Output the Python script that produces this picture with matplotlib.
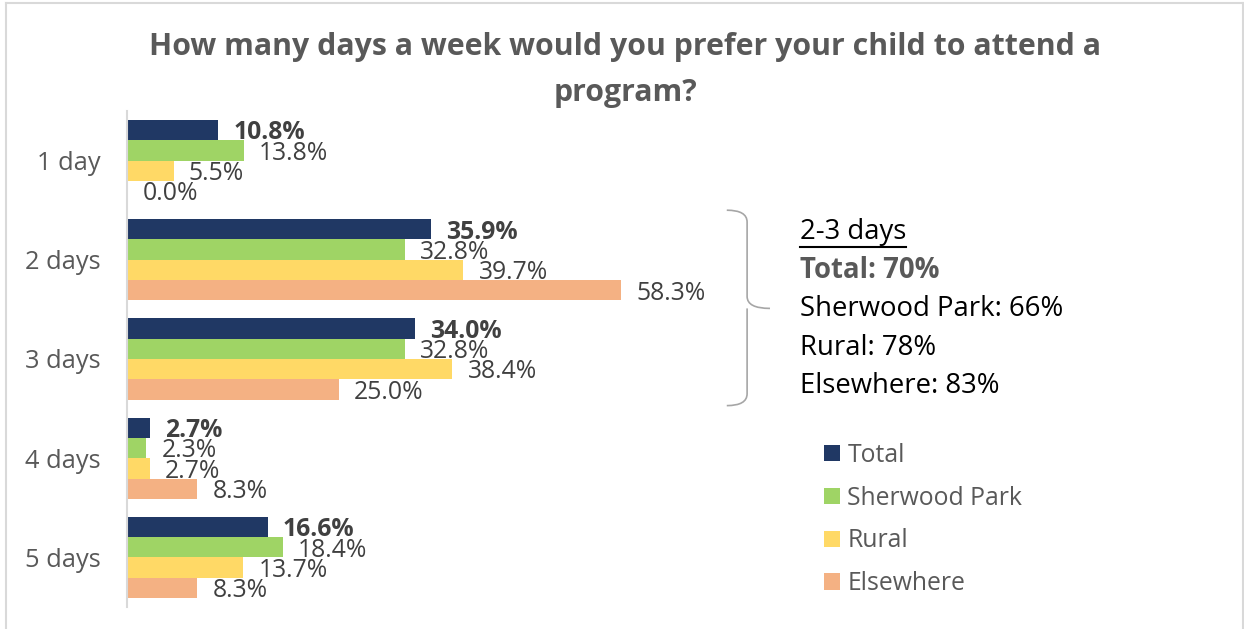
import numpy as np
import matplotlib.pyplot as plt
from matplotlib.path import Path
import matplotlib.patches as mpatches
from matplotlib.lines import Line2D

plt.rcParams['font.family'] = ['Open Sans', 'DejaVu Sans']

categories = ['1 day', '2 days', '3 days', '4 days', '5 days']
series = ['Total', 'Sherwood Park', 'Rural', 'Elsewhere']
total = [10.8, 35.9, 34.0, 2.7, 16.6]
sherwood = [13.8, 32.8, 32.8, 2.3, 18.4]
rural = [5.5, 39.7, 38.4, 2.7, 13.7]
elsewhere = [0.0, 58.3, 25.0, 8.3, 8.3]
colors = ['#203864', '#9FD465', '#FFD966', '#F4B183']

summary_head = '2-3 days'
summary_lines = ['Total: 70%', 'Sherwood Park: 66%', 'Rural: 78%', 'Elsewhere: 83%']

W, H = 1244, 629
fig = plt.figure(figsize=(W/100, H/100), dpi=100)

def fx(x):
    return x / W
def fy(y):
    return 1 - y / H

# chart border
for xs, ys in [([6, 6], [3, 629]), ([6, 1243], [3, 3]), ([1243, 1243], [3, 629])]:
    fig.add_artist(Line2D([fx(v) for v in xs], [fy(v) for v in ys], color='#D9D9D9', lw=1.5))

ax = fig.add_axes([fx(127), fy(607), (720-127)/W, (607-111)/H])

data = [total, sherwood, rural, elsewhere]
bh = 0.205
y = np.arange(len(categories))
for i, vals in enumerate(data):
    pos = y - 1.5*bh + i*bh
    ax.barh(pos, vals, height=bh, color=colors[i], label=series[i])
    for p, v in zip(pos, vals):
        ax.annotate(f'{v:.1f}%', (v, p), xytext=(11, -2), textcoords='offset points',
                    va='center', ha='left', fontsize=17.8, color='#404040',
                    fontweight='bold' if i == 0 else 'normal', annotation_clip=False)

ax.set_xlim(0, 70)
ax.set_ylim(len(categories) - 0.5, -0.5)
ax.set_yticks(y)
ax.set_yticklabels(categories, fontsize=18.3, color='#595959')
ax.tick_params(axis='y', length=0, pad=19)
ax.set_xticks([])
for s in ['top', 'right', 'bottom']:
    ax.spines[s].set_visible(False)
ax.spines['left'].set_color('#D9D9D9')
ax.spines['left'].set_linewidth(1.5)

# brace around 2-3 days
x0, x1, tip = 70.8, 73.2, 75.9
ya, ym, yb = 0.5, 1.49, 2.47
verts = [(x0, ya), (x1, ya), (x1, ya + 0.12),
         (x1, ym - 0.12),
         (x1, ym), (tip, ym), (tip, ym),
         (x1, ym), (x1, ym), (x1, ym + 0.12),
         (x1, yb - 0.12),
         (x1, yb), (x0, yb), (x0, yb)]
codes = [Path.MOVETO, Path.CURVE3, Path.CURVE3,
         Path.LINETO,
         Path.CURVE3, Path.CURVE3, Path.LINETO,
         Path.MOVETO, Path.CURVE3, Path.CURVE3,
         Path.LINETO,
         Path.CURVE3, Path.CURVE3, Path.LINETO]
ax.add_patch(mpatches.PathPatch(Path(verts, codes), fill=False, edgecolor='#A6A6A6',
                                lw=1.2, clip_on=False))

# title
fig.text(fx(625), fy(47), 'How many days a week would you prefer your child to attend a',
         ha='center', va='center', fontsize=21.8, fontweight='bold', color='#595959')
fig.text(fx(625), fy(93), 'program?', ha='center', va='center', fontsize=21.8,
         fontweight='bold', color='#595959')

# summary
t = fig.text(fx(800), fy(232), summary_head, ha='left', va='center', fontsize=19.8, color='black')
fig.canvas.draw()
bb = t.get_window_extent()
fig.add_artist(Line2D([bb.x0/W, bb.x1/W], [fy(247), fy(247)], color='black', lw=1.5))
ys = [270, 309, 348, 386]
for k, (line, yy) in enumerate(zip(summary_lines, ys)):
    fig.text(fx(800), fy(yy), line, ha='left', va='center', fontsize=19.8,
             color='#595959' if k == 0 else 'black', fontweight='bold' if k == 0 else 'normal')

leg = ax.legend(loc='upper left', bbox_to_anchor=(fx(814), fy(433)), bbox_transform=fig.transFigure,
                frameon=False, fontsize=17.8, labelcolor='#595959', handlelength=0.65,
                handleheight=0.65, handletextpad=0.3, labelspacing=0.72, borderaxespad=0)

fig.savefig('out.png', dpi=100)
